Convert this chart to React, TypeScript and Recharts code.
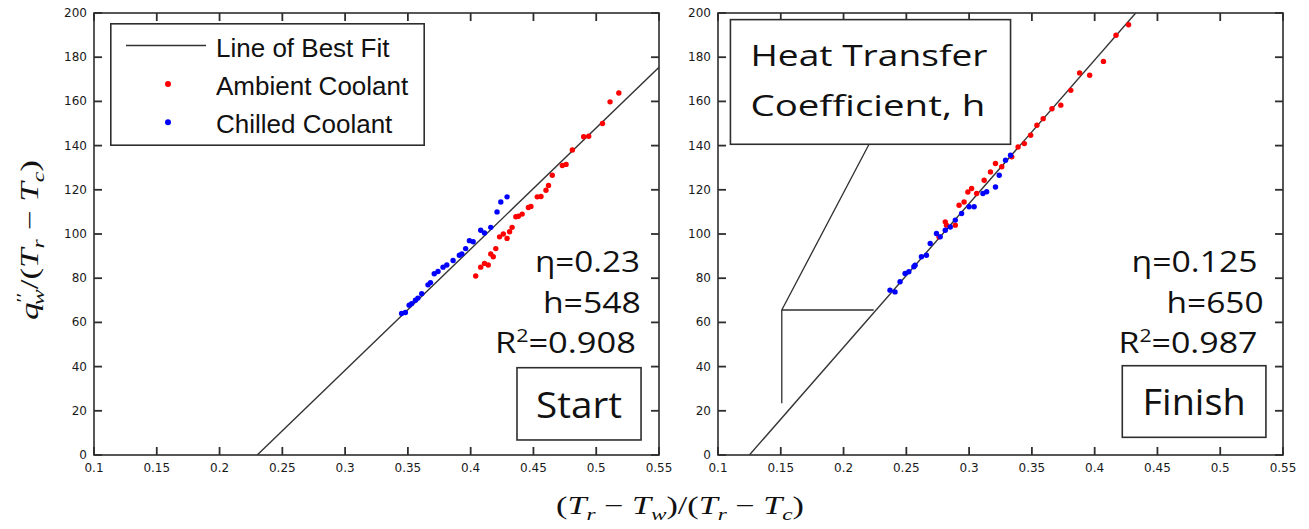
import { ScatterChart, Scatter, XAxis, YAxis, ReferenceArea, ReferenceLine, Legend } from 'recharts'

const xTicks = [0.1, 0.15, 0.2, 0.25, 0.3, 0.35, 0.4, 0.45, 0.5, 0.55]
const yTicks = [0, 20, 40, 60, 80, 100, 120, 140, 160, 180, 200]
const legendOrder = ['Line of Best Fit', 'Ambient Coolant', 'Chilled Coolant']

// Start panel
const startAmbient = [
  { x: 0.404, y: 81 }, { x: 0.408, y: 85 }, { x: 0.411, y: 86.7 }, { x: 0.414, y: 86 }, { x: 0.416, y: 91 },
  { x: 0.418, y: 89.7 }, { x: 0.42, y: 93.4 }, { x: 0.423, y: 98.7 }, { x: 0.426, y: 100 }, { x: 0.429, y: 98 },
  { x: 0.431, y: 101 }, { x: 0.433, y: 103 }, { x: 0.436, y: 107.8 }, { x: 0.438, y: 108 }, { x: 0.441, y: 109 },
  { x: 0.446, y: 112 }, { x: 0.448, y: 112.5 }, { x: 0.453, y: 116.8 }, { x: 0.456, y: 117 }, { x: 0.46, y: 119.8 },
  { x: 0.462, y: 122 }, { x: 0.465, y: 126.6 }, { x: 0.473, y: 131 }, { x: 0.476, y: 131.5 }, { x: 0.481, y: 138 },
  { x: 0.49, y: 144 }, { x: 0.494, y: 144.2 }, { x: 0.505, y: 150 }, { x: 0.511, y: 159.8 }, { x: 0.518, y: 163.8 },
]
const startChilled = [
  { x: 0.345, y: 64 }, { x: 0.348, y: 64.5 }, { x: 0.351, y: 67.8 }, { x: 0.353, y: 68.5 }, { x: 0.356, y: 70 },
  { x: 0.358, y: 71 }, { x: 0.361, y: 73 }, { x: 0.366, y: 77 }, { x: 0.368, y: 78 }, { x: 0.371, y: 82 },
  { x: 0.374, y: 83 }, { x: 0.378, y: 85 }, { x: 0.381, y: 86 }, { x: 0.386, y: 88 }, { x: 0.391, y: 90.4 },
  { x: 0.393, y: 91 }, { x: 0.396, y: 93.4 }, { x: 0.399, y: 97 }, { x: 0.402, y: 96.5 }, { x: 0.408, y: 101.7 },
  { x: 0.411, y: 100.5 }, { x: 0.416, y: 103 }, { x: 0.421, y: 110 }, { x: 0.424, y: 114.5 }, { x: 0.429, y: 116.8 },
]
const startFit = [{ x: 0.23, y: 0 }, { x: 0.55, y: 175.4 }]
const startStats = { eta: '0.23', h: '548', r2: '0.908' }

// Finish panel
const finishAmbient = [
  { x: 0.276, y: 98.7 }, { x: 0.281, y: 105.5 }, { x: 0.282, y: 104 }, { x: 0.289, y: 104 }, { x: 0.292, y: 113 },
  { x: 0.296, y: 114.5 }, { x: 0.299, y: 119 }, { x: 0.302, y: 120.6 }, { x: 0.306, y: 118.3 }, { x: 0.312, y: 124.3 },
  { x: 0.317, y: 128.1 }, { x: 0.321, y: 131.9 }, { x: 0.326, y: 130.4 }, { x: 0.334, y: 134.9 }, { x: 0.339, y: 139.4 },
  { x: 0.344, y: 140.9 }, { x: 0.349, y: 144.7 }, { x: 0.354, y: 149.2 }, { x: 0.359, y: 152.2 }, { x: 0.366, y: 156.7 },
  { x: 0.373, y: 158.3 }, { x: 0.381, y: 165 }, { x: 0.388, y: 172.9 }, { x: 0.396, y: 171.8 }, { x: 0.407, y: 178.1 },
  { x: 0.417, y: 189.9 }, { x: 0.427, y: 194.7 },
]
const finishChilled = [
  { x: 0.237, y: 74.6 }, { x: 0.241, y: 73.8 }, { x: 0.245, y: 78.4 }, { x: 0.249, y: 82.1 }, { x: 0.252, y: 82.9 },
  { x: 0.256, y: 85.2 }, { x: 0.257, y: 85.9 }, { x: 0.262, y: 89.7 }, { x: 0.266, y: 90.4 }, { x: 0.269, y: 95.7 },
  { x: 0.274, y: 100.2 }, { x: 0.277, y: 98.7 }, { x: 0.281, y: 101.7 }, { x: 0.285, y: 103.2 }, { x: 0.289, y: 106.3 },
  { x: 0.294, y: 109.3 }, { x: 0.3, y: 112.3 }, { x: 0.304, y: 112.3 }, { x: 0.311, y: 118.3 }, { x: 0.314, y: 119.1 },
  { x: 0.321, y: 121.3 }, { x: 0.324, y: 126.6 }, { x: 0.329, y: 133.4 }, { x: 0.333, y: 135.6 },
]
const finishFit = [{ x: 0.125, y: 0 }, { x: 0.4327, y: 200 }]
const finishStats = { eta: '0.125', h: '650', r2: '0.987' }

const AX = '#2e2e2e'
const CAL = '"Open Sans", "Noto Sans", sans-serif'
const W = 680
const H = 529
const M = { top: 13, right: 21, bottom: 0, left: 0 }
const TK = 8 // inward tick length, px

function XTick({ x, y, payload }: any) {
  return (
    <text x={x} y={y} dy={17} textAnchor="middle" fontSize={12} fontFamily="DejaVu Sans" fill="#1a1a1a">
      {String(payload.value)}
    </text>
  )
}

function YTick({ x, y, payload }: any) {
  return (
    <text x={x - 7} y={y} dy={4} textAnchor="end" fontSize={12} fontFamily="DejaVu Sans" fill="#1a1a1a">
      {String(payload.value)}
    </text>
  )
}

const noTick = () => <g />
const dot = (color: string) => (p: any) => <circle cx={p.cx} cy={p.cy} r={2.7} fill={color} />

function LegendBox({ payload }: any) {
  const items = [...(payload || [])].sort((a: any, b: any) => legendOrder.indexOf(a.value) - legendOrder.indexOf(b.value))
  return (
    <svg width={315} height={123} style={{ display: 'block' }}>
      <rect x={0.8} y={0.8} width={313.4} height={121.4} fill="#fff" stroke={AX} strokeWidth={1.6} />
      {items.map((e: any, i: number) => {
        const cy = 22.5 + i * 38.4
        return (
          <g key={e.value}>
            {e.type === 'line' ? (
              <line x1={16} x2={96} y1={cy} y2={cy} stroke="#333" strokeWidth={1.5} />
            ) : (
              <circle cx={58} cy={cy} r={3} fill={e.color} />
            )}
            <text x={106} y={cy + 11} fontSize={26} fontFamily="Liberation Sans, Arial, sans-serif" fill="#111">
              {e.value}
            </text>
          </g>
        )
      })}
    </svg>
  )
}

type Stats = { eta: string; h: string; r2: string }

const statsShape = (s: Stats, widths: number[], shifts: number[]) => (p: any) => {
  const right = p.x + p.width
  return (
    <g fontFamily={CAL} fontSize={29} fill="#111" textAnchor="end">
      <text x={right + shifts[0]} y={p.y + 22} textLength={widths[0]} lengthAdjust="spacingAndGlyphs">η={s.eta}</text>
      <text x={right + shifts[1]} y={p.y + 63} textLength={widths[1]} lengthAdjust="spacingAndGlyphs">h={s.h}</text>
      <text x={right + shifts[2]} y={p.y + 103} textLength={widths[2]} lengthAdjust="spacingAndGlyphs">
        R<tspan dy={-11} fontSize={18}>2</tspan><tspan dy={11}>={s.r2}</tspan>
      </text>
    </g>
  )
}

const tagShape = (label: string, w: number) => (p: any) => (
  <g>
    <rect x={p.x} y={p.y} width={p.width} height={p.height} fill="#fff" stroke={AX} strokeWidth={1.6} />
    <text x={p.x + p.width / 2} y={p.y + p.height * 0.69} textAnchor="middle" fontFamily={CAL} fontSize={37}
      textLength={w} lengthAdjust="spacingAndGlyphs" fill="#111">{label}</text>
  </g>
)

// MATLAB style box: frame plus inward ticks on all four sides (ticks are evenly spaced over the domain)
const frameShape = (p: any) => {
  const nx = xTicks.length - 1
  const ny = yTicks.length - 1
  const bottom = p.y + p.height
  const right = p.x + p.width
  return (
    <g stroke={AX} fill="none">
      <rect x={p.x} y={p.y} width={p.width} height={p.height} strokeWidth={1.6} />
      {xTicks.map((v, i) => {
        const cx = p.x + (i / nx) * p.width
        return (
          <g key={'x' + v} strokeWidth={1.8}>
            <line x1={cx} x2={cx} y1={bottom} y2={bottom - TK} />
            <line x1={cx} x2={cx} y1={p.y} y2={p.y + TK} />
          </g>
        )
      })}
      {yTicks.map((v, i) => {
        const cy = bottom - (i / ny) * p.height
        return (
          <g key={'y' + v} strokeWidth={1.8}>
            <line x1={p.x} x2={p.x + TK} y1={cy} y2={cy} />
            <line x1={right} x2={right - TK} y1={cy} y2={cy} />
          </g>
        )
      })}
    </g>
  )
}

const heatShape = (p: any) => (
  <g fontFamily={CAL} fontSize={29} fill="#111">
    <rect x={p.x} y={p.y} width={p.width} height={p.height} fill="#fff" stroke={AX} strokeWidth={1.6} />
    <text x={p.x + 20} y={p.y + 46} textLength={237} lengthAdjust="spacingAndGlyphs">Heat Transfer</text>
    <text x={p.x + 20} y={p.y + 96} textLength={235} lengthAdjust="spacingAndGlyphs">Coefficient, h</text>
  </g>
)

function Panel({ ambient, chilled, fit, stats, statWidths, statShifts, tag, tagWidth, tagBox, legend, heat }: any) {
  const ids = { xAxisId: 'b', yAxisId: 'l' }
  return (
    <ScatterChart width={W} height={H} margin={M}>
      <XAxis xAxisId="b" type="number" dataKey="x" domain={[0.1, 0.55]} ticks={xTicks} interval={0} allowDataOverflow
        height={74} tickSize={0} tickMargin={0} tickLine={false} tick={<XTick />} axisLine={false} />
      <YAxis yAxisId="l" type="number" dataKey="y" domain={[0, 200]} ticks={yTicks} interval={0} allowDataOverflow
        width={94} tickSize={0} tickMargin={0} tickLine={false} tick={<YTick />} axisLine={false} />

      <ReferenceArea {...ids} x1={0.1} x2={0.55} y1={0} y2={200} shape={frameShape} />

      <Scatter {...ids} name="Line of Best Fit" data={fit} legendType="line" line={{ stroke: '#333', strokeWidth: 1.4 }}
        lineType="joint" shape={noTick} fill="#333" isAnimationActive={false} />
      <Scatter {...ids} name="Ambient Coolant" data={ambient} fill="#ff0000" shape={dot('#ff0000')} isAnimationActive={false} />
      <Scatter {...ids} name="Chilled Coolant" data={chilled} fill="#0000ff" shape={dot('#0000ff')} isAnimationActive={false} />

      {heat && <ReferenceLine {...ids} segment={[{ x: 0.2203, y: 140.6 }, { x: 0.1508, y: 65.6 }]} stroke={AX} strokeWidth={1.3} />}
      {heat && <ReferenceLine {...ids} segment={[{ x: 0.1508, y: 65.6 }, { x: 0.224, y: 65.6 }]} stroke={AX} strokeWidth={1.3} />}
      {heat && <ReferenceLine {...ids} segment={[{ x: 0.1508, y: 65.6 }, { x: 0.1508, y: 23.4 }]} stroke={AX} strokeWidth={1.3} />}
      {heat && <ReferenceArea {...ids} x1={0.1099} x2={0.333} y1={140.6} y2={197} shape={heatShape} />}

      <ReferenceArea {...ids} x1={0.41} x2={stats.right} y1={45} y2={92.7} shape={statsShape(stats.values, statWidths, statShifts)} />
      <ReferenceArea {...ids} x1={tagBox[0]} x2={tagBox[1]} y1={tagBox[2]} y2={tagBox[3]} shape={tagShape(tag, tagWidth)} />

      {legend && (
        <Legend layout="vertical" align="center" verticalAlign="middle" content={<LegendBox />}
          wrapperStyle={{ left: 110, top: 23, width: 315, height: 123 }} />
      )}
    </ScatterChart>
  )
}

export default function App() {
  return (
    <div style={{ position: 'absolute', left: 0, top: 0, width: 1309, height: 529, background: '#fff', overflow: 'hidden' }}>
      <div style={{ position: 'absolute', left: 0, top: 0 }}>
        <Panel ambient={startAmbient} chilled={startChilled} fit={startFit}
          stats={{ right: 0.5348, values: startStats }} statWidths={[105, 98, 141]} statShifts={[0, 1, -4]}
          tag="Start" tagWidth={86} tagBox={[0.4369, 0.5357, 6.8, 39.5]} legend />
      </div>
      <div style={{ position: 'absolute', left: 624, top: 0 }}>
        <Panel ambient={finishAmbient} chilled={finishChilled} fit={finishFit}
          stats={{ right: 0.5297, values: finishStats }} statWidths={[126, 97, 139]} statShifts={[0, 6, 0]}
          tag="Finish" tagWidth={103} tagBox={[0.422, 0.5364, 8, 40.4]} heat />
      </div>
      <svg width={1309} height={529} style={{ position: 'absolute', left: 0, top: 0, pointerEvents: 'none' }}>
        <text transform="translate(38,240) rotate(-90)" textAnchor="middle" fontFamily="Liberation Serif, serif" fontSize={25}
          fill="#111" textLength={160} lengthAdjust="spacingAndGlyphs">
          <tspan fontStyle="italic">q</tspan>
          <tspan fontSize={16} dy={-10}>′′</tspan>
          <tspan fontSize={17} fontStyle="italic" dx={-9} dy={16}>w</tspan>
          <tspan dy={-6}>/(</tspan>
          <tspan fontStyle="italic">T</tspan>
          <tspan fontSize={17} fontStyle="italic" dy={6}>r</tspan>
          <tspan dy={-6}> − </tspan>
          <tspan fontStyle="italic">T</tspan>
          <tspan fontSize={17} fontStyle="italic" dy={6}>c</tspan>
          <tspan dy={-6}>)</tspan>
        </text>
        <text x={680} y={514} textAnchor="middle" fontFamily="Liberation Serif, serif" fontSize={25} fill="#111"
          textLength={248} lengthAdjust="spacingAndGlyphs">
          <tspan>(</tspan>
          <tspan fontStyle="italic">T</tspan>
          <tspan fontSize={17} fontStyle="italic" dy={6}>r</tspan>
          <tspan dy={-6}> − </tspan>
          <tspan fontStyle="italic">T</tspan>
          <tspan fontSize={17} fontStyle="italic" dy={6}>w</tspan>
          <tspan dy={-6}>)/(</tspan>
          <tspan fontStyle="italic">T</tspan>
          <tspan fontSize={17} fontStyle="italic" dy={6}>r</tspan>
          <tspan dy={-6}> − </tspan>
          <tspan fontStyle="italic">T</tspan>
          <tspan fontSize={17} fontStyle="italic" dy={6}>c</tspan>
          <tspan dy={-6}>)</tspan>
        </text>
      </svg>
    </div>
  )
}
